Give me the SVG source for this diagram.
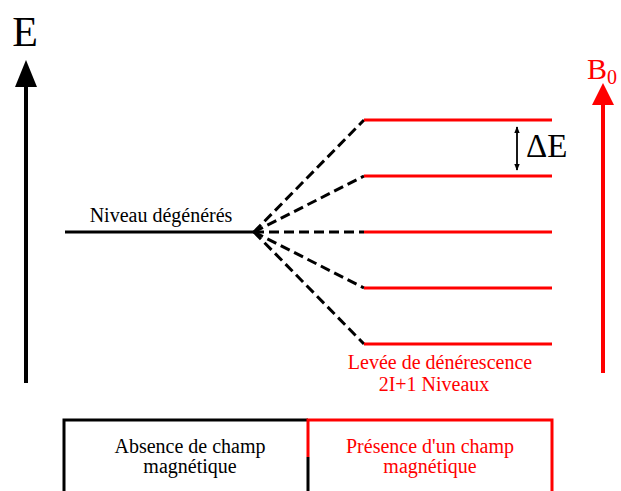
<svg xmlns="http://www.w3.org/2000/svg" width="621" height="491" viewBox="0 0 621 491">
<style>
text{font-family:"Liberation Serif","Times New Roman",serif}
.blk{fill:#000}
.red{fill:#ff0000}
.lbl{font-size:20px}
.lvl{stroke:#ff0000;stroke-width:3;fill:none}
.dash{stroke:#000;stroke-width:3;stroke-dasharray:10,5;fill:none}
</style>
<defs>
<marker id="da" viewBox="0 0 10 10" refX="9" refY="5" markerWidth="7" markerHeight="7" orient="auto-start-reverse" markerUnits="userSpaceOnUse">
<path d="M0,1 L10,5 L0,9 z" fill="#000"/>
</marker>
</defs>
<g id="axis-E">
<line x1="26" y1="383" x2="26" y2="84" stroke="#000" stroke-width="4"/>
<polygon points="26,60 15,87 37,87" fill="#000"/>
<text x="25" y="46" font-size="42" text-anchor="middle" class="blk">E</text>
</g>
<g id="axis-B0">
<line x1="603" y1="373" x2="603" y2="102" stroke="#ff0000" stroke-width="4"/>
<polygon points="603,83 592,105 614,105" fill="#ff0000"/>
<text x="587" y="79" font-size="30" class="red">B<tspan font-size="20" dy="5">0</tspan></text>
</g>
<g id="degenerate">
<line x1="65" y1="232" x2="255" y2="232" stroke="#000" stroke-width="3"/>
<text x="161" y="222" text-anchor="middle" class="blk lbl">Niveau dégénérés</text>
</g>
<g id="connectors">
<path class="dash" d="M254,232 L364,120"/>
<path class="dash" d="M254,232 L364,176"/>
<path class="dash" d="M254,232 L364,232"/>
<path class="dash" d="M254,232 L364,288"/>
<path class="dash" d="M254,232 L364,344"/>
<line x1="517" y1="127" x2="517" y2="170" stroke="#000" stroke-width="1.8" marker-start="url(#da)" marker-end="url(#da)"/>
</g>
<g id="levels">
<line class="lvl" x1="364" y1="120" x2="552" y2="120"/>
<line class="lvl" x1="364" y1="176" x2="552" y2="176"/>
<line class="lvl" x1="364" y1="232" x2="552" y2="232"/>
<line class="lvl" x1="364" y1="288" x2="552" y2="288"/>
<line class="lvl" x1="364" y1="344" x2="552" y2="344"/>
</g>
<g id="deltaE">
<text x="526" y="157" font-size="33" class="blk">ΔE</text>
</g>
<g id="split-label">
<text x="440" y="369" text-anchor="middle" class="red lbl">Levée de dénérescence</text>
<text x="434" y="391" text-anchor="middle" class="red lbl">2I+1 Niveaux</text>
</g>
<g id="box-absence">
<path d="M64,493 L64,420 L308,420 M308,457 L308,493" stroke="#000" stroke-width="3" fill="none"/>
<text x="190" y="453" text-anchor="middle" class="blk lbl">Absence de champ</text>
<text x="190" y="473" text-anchor="middle" class="blk lbl">magnétique</text>
</g>
<g id="box-presence">
<path d="M308,457 L308,420 L552,420 L552,493" stroke="#ff0000" stroke-width="3" fill="none"/>
<text x="430" y="453" text-anchor="middle" class="red lbl">Présence d'un champ</text>
<text x="430" y="473" text-anchor="middle" class="red lbl">magnétique</text>
</g>
</svg>
